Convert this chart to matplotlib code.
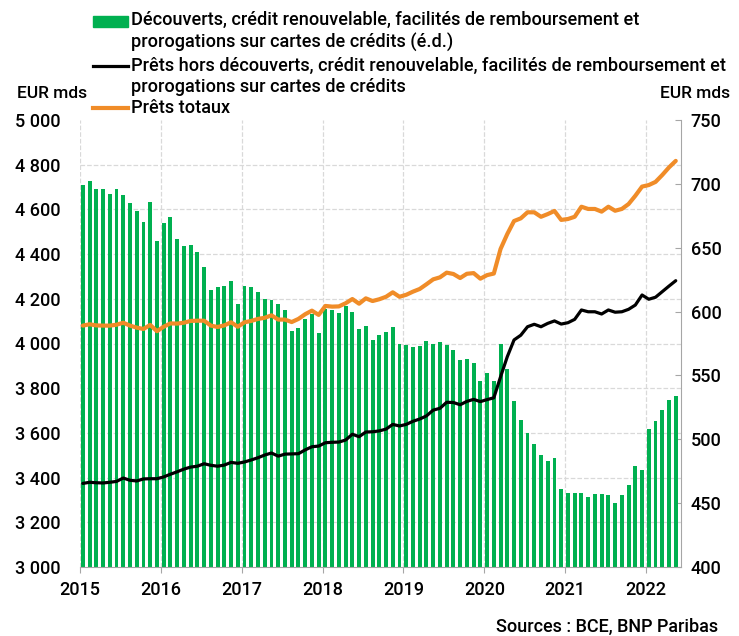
import matplotlib
matplotlib.use("Agg")
import matplotlib.pyplot as plt
import numpy as np
from matplotlib.lines import Line2D
from matplotlib.patches import Rectangle

plt.rcParams['font.family'] = ['Roboto', 'DejaVu Sans']
plt.rcParams['font.weight'] = 'medium'

# mois de janvier 2015 à mai 2022
years = ['2015', '2016', '2017', '2018', '2019', '2020', '2021', '2022']

# Découverts, crédit renouvelable... (EUR mds, échelle de droite)
decouverts = [
    699, 702, 696, 696, 692, 696, 691, 685, 679, 670, 686, 655,
    669, 674, 657, 651, 652, 647, 635, 617, 619, 620, 624, 606,
    620, 619, 615, 610, 609, 606, 601, 585, 587, 594, 598, 583,
    602, 601, 599, 604, 600, 586, 589, 578, 582, 584, 588, 575,
    574, 572, 573, 577, 575, 576, 574, 570, 562, 563, 560, 546,
    552, 546, 575, 555, 530, 515, 505, 496, 488, 483, 485, 461,
    458, 458, 458, 455, 457, 457, 456, 450, 456, 464, 479, 476,
    508, 514, 523, 531, 534,
]

# Prêts hors découverts... (EUR mds, échelle de gauche)
prets_hors = [
    3374, 3379, 3377, 3376, 3379, 3383, 3398, 3388, 3385, 3394, 3395, 3395,
    3403, 3415, 3426, 3438, 3447, 3451, 3462, 3455, 3451, 3456, 3468, 3464,
    3470, 3479, 3489, 3501, 3510, 3496, 3505, 3506, 3507, 3524, 3538, 3541,
    3556, 3558, 3559, 3568, 3594, 3583, 3604, 3605, 3609, 3617, 3638, 3631,
    3638, 3652, 3662, 3676, 3702, 3710, 3737, 3736, 3726, 3741, 3750, 3740,
    3749, 3757, 3851, 3941, 4016, 4037, 4075, 4086, 4075, 4090, 4101, 4087,
    4093, 4108, 4150, 4142, 4142, 4132, 4150, 4140, 4142, 4153, 4172, 4217,
    4198, 4207, 4232, 4257, 4281,
]

# Prêts totaux (EUR mds, échelle de gauche)
prets_totaux = [
    4080, 4086, 4081, 4080, 4080, 4084, 4093, 4080, 4071, 4065, 4083, 4055,
    4075, 4090, 4089, 4093, 4101, 4102, 4102, 4080, 4074, 4081, 4095, 4075,
    4095, 4101, 4110, 4115, 4126, 4107, 4107, 4096, 4110, 4131, 4147, 4128,
    4168, 4165, 4166, 4180, 4199, 4178, 4202, 4190, 4198, 4209, 4229, 4209,
    4218, 4232, 4244, 4265, 4287, 4296, 4317, 4311, 4293, 4312, 4315, 4290,
    4306, 4313, 4423, 4490, 4548, 4560, 4587, 4587, 4567, 4579, 4593, 4553,
    4557, 4567, 4612, 4602, 4602, 4590, 4612, 4594, 4602, 4624, 4661, 4702,
    4709, 4723, 4754, 4788, 4817,
]

green = '#00b050'
orange = '#f08c28'
grid_col = '#d9d9d9'
axis_col = '#a6a6a6'

x = np.arange(len(decouverts)) + 0.42

fig = plt.figure(figsize=(7.39, 6.36), dpi=100)
axb = fig.add_axes([80 / 739, 1 - 567 / 636, 601 / 739, 447 / 636])
axl = axb.twinx()

# barres sur l'axe de droite
axb.bar(x, decouverts, width=0.58, color=green, zorder=2)
axb.set_ylim(400, 750)
axb.set_xlim(0, 89.2)
axb.yaxis.tick_right()
axb.set_yticks(np.arange(400, 751, 50))
axb.tick_params(axis='y', direction='in', length=4, color=axis_col, pad=7, labelsize=13)

# grille alignée sur l'échelle de gauche
left_ticks = np.arange(3000, 5001, 200)
axb.set_yticks(400 + (left_ticks - 3000) * 350 / 2000, minor=True)
axb.tick_params(axis='y', which='minor', length=0)
axb.grid(axis='y', which='minor', ls='--', color=grid_col, lw=0.9)
axb.grid(axis='x', which='major', ls='--', color=grid_col, lw=0.9)
axb.set_axisbelow(True)

axb.set_xticks(np.arange(0, 85, 12))
axb.set_xticklabels(years)
axb.tick_params(axis='x', direction='out', length=4, color=axis_col, pad=6, labelsize=13)

for s in ['left', 'top']:
    axb.spines[s].set_visible(False)
for s in ['right', 'bottom']:
    axb.spines[s].set_color(axis_col)

# courbes sur l'axe de gauche
axl.plot(x, prets_hors, color='black', lw=2.3, solid_capstyle='round', zorder=3)
axl.plot(x, prets_totaux, color=orange, lw=3, solid_capstyle='round', zorder=3)
axl.set_ylim(3000, 5000)
axl.yaxis.tick_left()
axl.set_yticks(left_ticks)
axl.set_yticklabels([f'{v:,}'.replace(',', ' ') for v in left_ticks])
axl.tick_params(axis='y', length=0, pad=14, labelsize=13)
for s in axl.spines.values():
    s.set_visible(False)

# unités
fig.text(17 / 739, 1 - 93 / 636, 'EUR mds', fontsize=12.5, va='center', ha='left')
fig.text(730 / 739, 1 - 93 / 636, 'EUR mds', fontsize=12.5, va='center', ha='right')

# légende
tx = 131 / 739
fs = 13.1
fig.patches.append(Rectangle((93 / 739, 1 - 27 / 636), 35 / 739, 11 / 636,
                             transform=fig.transFigure, color=green))
fig.text(tx, 1 - 20 / 636, 'Découverts, crédit renouvelable, facilités de remboursement et',
         fontsize=fs, va='center')
fig.text(tx, 1 - 43 / 636, 'prorogations sur cartes de crédits (é.d.)', fontsize=fs, va='center')
fig.lines.append(Line2D([93 / 739, 128 / 739], [1 - 66 / 636] * 2, transform=fig.transFigure,
                        color='black', lw=2.3))
fig.text(tx, 1 - 66 / 636, 'Prêts hors découverts, crédit renouvelable, facilités de remboursement et',
         fontsize=fs, va='center')
fig.text(tx, 1 - 87 / 636, 'prorogations sur cartes de crédits', fontsize=fs, va='center')
fig.lines.append(Line2D([93 / 739, 128 / 739], [1 - 108 / 636] * 2, transform=fig.transFigure,
                        color=orange, lw=3))
fig.text(tx, 1 - 108 / 636, 'Prêts totaux', fontsize=fs, va='center')

fig.text(718 / 739, 1 - 627 / 636, 'Sources : BCE, BNP Paribas', fontsize=13, ha='right', va='center')

fig.savefig('out.png', dpi=100)
